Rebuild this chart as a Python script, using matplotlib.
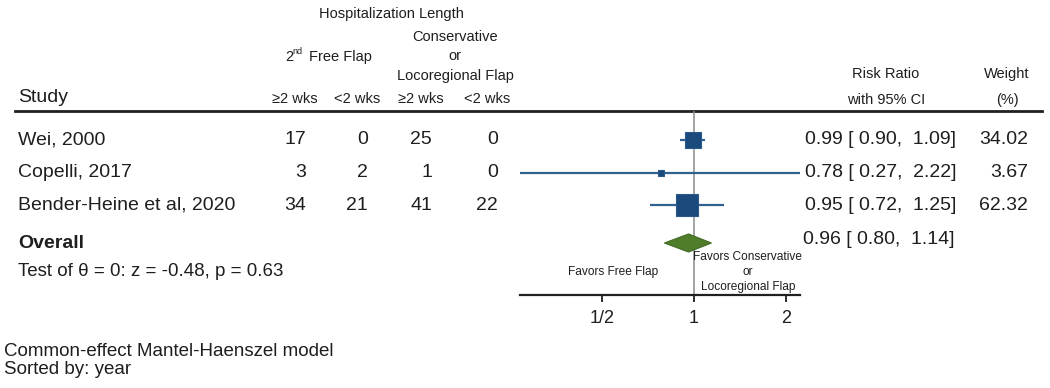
import matplotlib.pyplot as plt
import numpy as np

# data
studies = ["Wei, 2000", "Copelli, 2017", "Bender-Heine et al, 2020"]
free_ge2 = [17, 3, 34]
free_lt2 = [0, 2, 21]
cons_ge2 = [25, 1, 41]
cons_lt2 = [0, 0, 22]
rr = [0.99, 0.78, 0.95]
ci_low = [0.90, 0.27, 0.72]
ci_high = [1.09, 2.22, 1.25]
weight = [34.02, 3.67, 62.32]
overall = (0.96, 0.80, 1.14)
test_text = "Test of \u03b8 = 0: z = -0.48, p = 0.63"
xticks = [0.5, 1, 2]
xtick_labels = ["1/2", "1", "2"]

plt.rcParams['font.family'] = ['Liberation Sans', 'DejaVu Sans']

W, H = 1050, 388
fig = plt.figure(figsize=(10.5, 3.88), dpi=100)
bg = fig.add_axes([0, 0, 1, 1])
bg.set_xlim(0, W)
bg.set_ylim(H, 0)
bg.axis('off')

txt = '#1e1e1e'
hs = 10.5   # header font
rs = 14     # row font

# column headers
bg.text(391, 14, "Hospitalization Length", ha='center', va='center', fontsize=hs, color=txt)
bg.text(285, 57, "2", ha='left', va='center', fontsize=hs, color=txt)
bg.text(292, 52, "nd", ha='left', va='center', fontsize=6.5, color=txt)
bg.text(309, 57, "Free Flap", ha='left', va='center', fontsize=hs, color=txt)
bg.text(455, 37, "Conservative", ha='center', va='center', fontsize=hs, color=txt)
bg.text(455, 56, "or", ha='center', va='center', fontsize=hs, color=txt)
bg.text(455, 76, "Locoregional Flap", ha='center', va='center', fontsize=hs, color=txt)
bg.text(18, 97, "Study", ha='left', va='center', fontsize=rs, color=txt)
col_x = [306, 368, 432, 498]
for x, lab in zip(col_x, ["\u22652 wks", "<2 wks", "\u22652 wks", "<2 wks"]):
    bg.text(x + 12, 99, lab, ha='right', va='center', fontsize=hs, color=txt)
bg.text(886, 74, "Risk Ratio", ha='center', va='center', fontsize=hs, color=txt)
bg.text(886, 100, "with 95% CI", ha='center', va='center', fontsize=hs, color=txt)
bg.text(1007, 74, "Weight", ha='center', va='center', fontsize=hs, color=txt)
bg.text(1007, 100, "(%)", ha='center', va='center', fontsize=hs, color=txt)
bg.plot([15, 1042], [111, 111], color='#202020', lw=2)

# study rows
row_y = [140 + 32.5 * i for i in range(len(studies))]
for i, y in enumerate(row_y):
    bg.text(18, y, studies[i], ha='left', va='center', fontsize=rs, color=txt)
    for x, v in zip(col_x, [free_ge2[i], free_lt2[i], cons_ge2[i], cons_lt2[i]]):
        bg.text(x, y, str(v), ha='right', va='center', fontsize=rs, color=txt)
    bg.text(805, y, f"{rr[i]:.2f} [ {ci_low[i]:.2f},  {ci_high[i]:.2f}]",
            ha='left', va='center', fontsize=rs, color=txt)
    bg.text(1028, y, f"{weight[i]:.2f}", ha='right', va='center', fontsize=rs, color=txt)

# overall
oy = 243
bg.text(18, oy, "Overall", ha='left', va='center', fontsize=rs, color=txt, fontweight='bold')
bg.text(803, oy - 3, f"{overall[0]:.2f} [ {overall[1]:.2f},  {overall[2]:.2f}]",
        ha='left', va='center', fontsize=rs, color=txt)
bg.text(18, 272, test_text, ha='left', va='center', fontsize=13.5, color=txt)
bg.text(4, 351, "Common-effect Mantel-Haenszel model", ha='left', va='center', fontsize=13.5, color=txt)
bg.text(4, 369, "Sorted by: year", ha='left', va='center', fontsize=13.5, color=txt)

# forest panel
fx0, fx1, fy0, fy1 = 520, 800, 111, 295
ax = fig.add_axes([fx0 / W, 1 - fy1 / H, (fx1 - fx0) / W, (fy1 - fy0) / H])
ax.patch.set_alpha(0)
ax.set_xscale('log')
ax.set_xlim(0.27, 2.22)
ax.set_ylim(fy1, fy0)
for s in ['top', 'left', 'right']:
    ax.spines[s].set_visible(False)
ax.spines['bottom'].set_linewidth(1.6)
ax.spines['bottom'].set_color('#202020')
ax.set_yticks([])
ax.set_xticks(xticks)
ax.set_xticklabels(xtick_labels, fontsize=13, color=txt)
ax.xaxis.set_minor_locator(plt.NullLocator())
ax.tick_params(axis='x', direction='out', length=5, width=1.3, color='#202020', pad=6)

ax.plot([1, 1], [fy0, fy1], color='#8a8a8a', lw=1.1, zorder=1)

wmax = max(weight)
for i, y in enumerate(row_y):
    ax.plot([ci_low[i], ci_high[i]], [y, y], color='#2f6190', lw=1.6, zorder=2,
            clip_on=False, solid_capstyle='butt')
    ms = 16.5 * np.sqrt(weight[i] / wmax)
    ax.plot(rr[i], y, marker='s', markersize=ms, color='#1a4a7c',
            markeredgecolor='#2a5a8c', markeredgewidth=0.8, zorder=3)

ax.fill([overall[1], overall[0], overall[2], overall[0]], [oy, oy - 9, oy, oy + 9],
        color='#4f7d2a', edgecolor='#3f6a22', lw=0.8, zorder=3)

fs = 8.6
ax.text(0.543, 272, "Favors Free Flap", ha='center', va='center', fontsize=fs, color=txt)
ax.text(1.5, 257, "Favors Conservative", ha='center', va='center', fontsize=fs, color=txt)
ax.text(1.5, 272, "or", ha='center', va='center', fontsize=fs, color=txt)
ax.text(1.5, 287, "Locoregional Flap", ha='center', va='center', fontsize=fs, color=txt)

fig.savefig("out.png", dpi=100)
